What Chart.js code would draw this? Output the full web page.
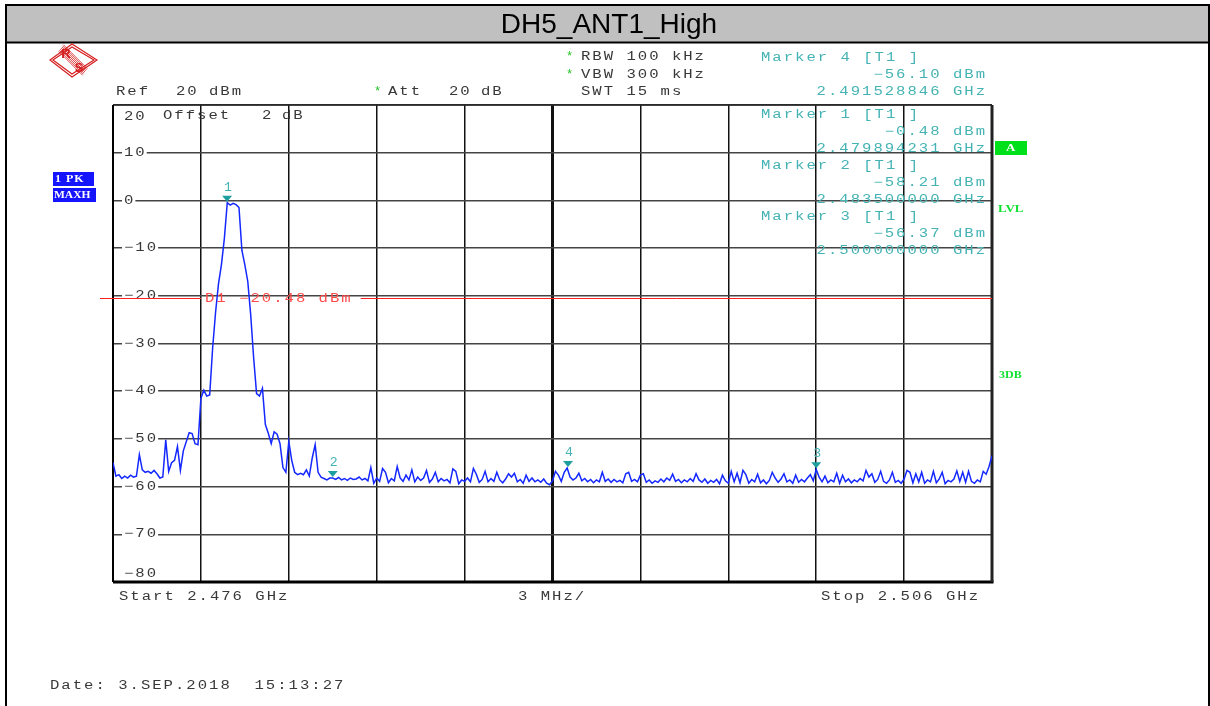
<!DOCTYPE html>
<html>
<head>
<meta charset="utf-8">
<script src="https://cdn.jsdelivr.net/npm/chart.js@4.4.1/dist/chart.umd.min.js"></script>
<style>
html, body { margin: 0; padding: 0; background: #fff; }
#wrap { width: 1210px; height: 706px; }
</style>
</head>
<body>
<div id="wrap"><canvas id="spec" width="1210" height="706"></canvas></div>
<script>
// --- Data: sweep 2.476 .. 2.506 GHz, one reading every 0.1 MHz ---
const START_GHZ = 2.476;
const STOP_GHZ = 2.506;
const STEP_GHZ = 0.0001;
const levels = [
  -55, -57.8, -57.5, -58.3, -57.8, -58.2, -57.6, -58, -57.8, -53.3,
  -56.5, -57, -56.8, -57.2, -56.6, -57.3, -58.2, -58, -50.2, -56.8,
  -55, -54.5, -51.6, -56.6, -52.5, -50.6, -48.7, -48.9, -51, -51.2,
  -41.5, -39.8, -41, -40.8, -31, -23.5, -17.5, -13.5, -8, -0.5,
  -1, -0.6, -0.9, -1.5, -10.5, -13.5, -17, -24, -33, -40.5,
  -41, -39.4, -47, -48.8, -51, -48.5, -49, -51, -56, -57,
  -50.5, -54.5, -57, -57.5, -57.2, -57.5, -56.5, -57.8, -54, -51.2,
  -57, -58, -58.3, -58.6, -58.2, -58.2, -58.5, -58.1, -58.6, -58.3,
  -58.7, -58.2, -58.5, -58.4, -58.0, -58.6, -58.3, -58.8, -56.0, -59.3,
  -58.2, -58.9, -56.2, -57.0, -59.2, -58.3, -58.8, -55.8, -58.2, -58.9,
  -57.6, -58.6, -56.5, -59.0, -58.0, -58.7, -58.2, -56.6, -59.1, -58.4,
  -57.0, -59.0, -58.3, -58.8, -58.5, -59.2, -56.3, -56.8, -59.4, -58.6,
  -58.9, -58.2, -59.0, -56.2, -57.4, -59.1, -58.5, -56.8, -59.0, -58.3,
  -58.9, -57.0, -58.6, -59.2, -58.4, -57.3, -58.0, -57.2, -59.0, -58.5,
  -59.3, -57.6, -58.9, -58.2, -59.0, -58.6, -59.1, -58.4, -59.3, -59.6,
  -58.8, -56.8, -57.6, -58.9, -57.0, -56.1, -58.0, -58.6, -58.2, -57.2,
  -58.8, -58.3, -59.0, -58.5, -59.2, -58.6, -59.0, -57.0, -58.9, -58.4,
  -59.1, -58.5, -59.0, -58.7, -59.2, -57.3, -57.0, -58.9, -58.5, -59.0,
  -57.6, -57.3, -59.1, -58.6, -59.3, -58.8, -59.1, -58.4, -59.0, -58.2,
  -58.7, -57.4, -58.9, -58.5, -59.2, -58.6, -59.0, -58.3, -58.9, -57.3,
  -58.6, -59.1, -58.4, -59.3, -58.7, -59.1, -58.5, -59.4, -57.6, -58.8,
  -59.3, -56.8, -59.0, -57.2, -59.2, -56.6, -57.5, -59.3, -58.5, -59.0,
  -57.4, -59.2, -58.6, -59.4, -58.7, -57.0, -58.2, -59.1, -58.4, -57.3,
  -59.0, -58.6, -59.3, -57.6, -59.1, -58.5, -59.0, -58.2, -57.5, -58.8,
  -56.4, -58.0, -59.0, -57.8, -59.2, -58.6, -59.0, -57.2, -59.3, -57.6,
  -59.0, -58.4, -59.2, -58.6, -59.0, -58.3, -58.8, -56.6, -58.0, -57.3,
  -59.1, -58.5, -56.8, -58.9, -59.3, -58.6, -57.0, -59.1, -58.7, -59.3,
  -58.4, -56.6, -57.0, -59.2, -57.3, -59.0, -57.0, -59.3, -58.6, -59.0,
  -56.8, -59.2, -58.4, -57.0, -59.4, -58.7, -59.0, -58.4, -56.7, -58.9,
  -57.0, -59.1, -56.8, -58.9, -59.3, -58.6, -59.0, -56.8, -57.4, -55.8,
  -53.5
];
const traceData = levels.map((v, i) => ({ x: START_GHZ + i * STEP_GHZ, y: v }));

// markers, in the order shown in the info block
const markerIds = [4, 1, 2, 3];
const markerFreq = [2.491528846, 2.479894231, 2.4835, 2.5];
const markerLevel = [-56.10, -0.48, -58.21, -56.37];

const displayLine = -20.48;
const xTicks = [2.476, 2.479, 2.482, 2.485, 2.488, 2.491, 2.494, 2.497, 2.500, 2.503, 2.506];
const yTicks = [20, 10, 0, -10, -20, -30, -40, -50, -60, -70, -80];

// --- Helpers ---
// the analyzer font is a wide, spaced monospace: stretch Liberation Mono sideways
const MONO = '12px "Liberation Mono", monospace';
const SX = 1.3;   // horizontal stretch
const SP = 2.0;   // gap between glyphs in screen px
const TEAL = '#45b3b3';
const GREY = '#383838';

function txt(ctx, s, x, y, color, font, spacing, sx) {
    sx = sx || SX;
    spacing = spacing === undefined ? SP : spacing;
    ctx.save();
    ctx.font = font || MONO;
    ctx.letterSpacing = (spacing / sx) + 'px';
    ctx.fillStyle = color;
    ctx.textAlign = 'left';
    ctx.textBaseline = 'middle';
    ctx.translate(x, y);
    ctx.scale(sx, 1);
    ctx.fillText(s, 0, 0);
    const w = ctx.measureText(s).width * sx;
    ctx.restore();
    return w;
}
function txtRight(ctx, s, right, y, color) {
    ctx.save();
    ctx.font = MONO;
    ctx.letterSpacing = (SP / SX) + 'px';
    const w = ctx.measureText(s).width * SX - SP;
    ctx.restore();
    txt(ctx, s, right - w, y, color);
}
const minus = v => String(v).replace('-', '\u2212');

// --- Page decorations (frame, title, header texts) ---
const framePlugin = {
    id: 'frame',
    beforeDraw(chart) {
        const ctx = chart.ctx;
        ctx.save();
        ctx.fillStyle = '#fff';
        ctx.fillRect(0, 0, 1210, 706);
        ctx.fillStyle = '#c0c0c0';
        ctx.fillRect(6, 5, 1204, 37);
        ctx.strokeStyle = '#000';
        ctx.lineWidth = 2;
        ctx.strokeRect(6, 5, 1203, 720);
        ctx.beginPath(); ctx.moveTo(6, 42.5); ctx.lineTo(1210, 42.5); ctx.stroke();
        ctx.fillStyle = '#000';
        ctx.font = '28px "Liberation Sans", Arial, sans-serif';
        ctx.textAlign = 'center';
        ctx.textBaseline = 'middle';
        ctx.fillText('DH5_ANT1_High', 609, 25);

        // R&S logo
        ctx.strokeStyle = '#d42020';
        ctx.lineWidth = 1.2;
        ctx.beginPath();
        ctx.moveTo(50, 60); ctx.lineTo(72, 44); ctx.lineTo(97, 60); ctx.lineTo(72, 77); ctx.closePath();
        ctx.stroke();
        ctx.beginPath();
        ctx.moveTo(53, 60); ctx.lineTo(72, 47); ctx.lineTo(94, 60); ctx.lineTo(72, 74); ctx.closePath();
        ctx.stroke();
        ctx.lineWidth = 0.8;
        for (let k = -3; k <= 3; k++) {
            ctx.beginPath();
            ctx.moveTo(61 + k * 0.8, 48 - k * 1.1);
            ctx.lineTo(85 + k * 0.8, 72 - k * 1.1);
            ctx.stroke();
        }
        ctx.fillStyle = '#d42020';
        ctx.font = 'bold 13px "Liberation Sans", sans-serif';
        ctx.fillText('R', 66, 54);
        ctx.fillText('S', 79, 68);
        ctx.restore();

        // setting lines
        txt(ctx, 'Ref', 116, 92, GREY);
        txt(ctx, '20', 176, 92, GREY);
        txt(ctx, 'dBm', 209, 92, GREY);
        txt(ctx, '*', 374, 92, '#20c020', undefined, 0, 1);
        txt(ctx, 'Att', 388, 92, GREY);
        txt(ctx, '20', 449, 92, GREY);
        txt(ctx, 'dB', 481, 92, GREY);
        txt(ctx, '*', 566, 57, '#20c020', undefined, 0, 1);
        txt(ctx, 'RBW 100 kHz', 581, 57, GREY);
        txt(ctx, '*', 566, 75, '#20c020', undefined, 0, 1);
        txt(ctx, 'VBW 300 kHz', 581, 75, GREY);
        txt(ctx, 'SWT 15 ms', 581, 92, GREY);

        // left trace boxes
        ctx.save();
        ctx.fillStyle = '#1414ff';
        ctx.fillRect(53, 172, 41, 14);
        ctx.fillRect(53, 188, 43, 14);
        ctx.fillStyle = '#00e01a';
        ctx.fillRect(995, 141, 32, 14);
        ctx.restore();
        const SERIF = 'bold 10px "Liberation Serif", serif';
        txt(ctx, '1 PK', 55, 179.5, '#fff', SERIF, 1, 1.2);
        txt(ctx, 'MAXH', 54, 195.5, '#fff', SERIF, 0, 1.15);
        txt(ctx, 'A', 1006, 148.5, '#fff', SERIF, 0, 1.3);
        txt(ctx, 'LVL', 998, 209.5, '#10e030', SERIF, 0, 1.3);
        txt(ctx, '3DB', 999, 375.5, '#10e030', SERIF, 0, 1.2);

        // bottom texts
        txt(ctx, 'Start 2.476 GHz', 119, 597, GREY);
        txt(ctx, '3 MHz/', 518, 597, GREY);
        txt(ctx, 'Stop 2.506 GHz', 821, 597, GREY);
        txt(ctx, 'Date: 3.SEP.2018  15:13:27', 50, 686, GREY);
    },
    beforeDatasetsDraw(chart) {
        const ctx = chart.ctx;
        const a = chart.chartArea;
        const ys = chart.scales.y;
        // plot border
        ctx.save();
        ctx.strokeStyle = '#222';
        ctx.lineWidth = 1.5;
        ctx.beginPath(); ctx.moveTo(a.left, a.top); ctx.lineTo(a.right, a.top); ctx.stroke();
        ctx.strokeStyle = '#000';
        ctx.lineWidth = 2;
        ctx.beginPath(); ctx.moveTo(a.left, a.top); ctx.lineTo(a.left, a.bottom); ctx.stroke();
        ctx.lineWidth = 3;
        ctx.beginPath(); ctx.moveTo(a.left, a.bottom); ctx.lineTo(a.right + 1.5, a.bottom); ctx.stroke();
        ctx.strokeStyle = '#222';
        ctx.beginPath(); ctx.moveTo(a.right, a.top); ctx.lineTo(a.right, a.bottom); ctx.stroke();
        ctx.restore();

        // y tick labels sitting on the grid lines
        yTicks.forEach(v => {
            const s = minus(v);
            if (v === yTicks[0]) { txt(ctx, s, 124, 117, GREY); return; }
            if (v === yTicks[yTicks.length - 1]) { txt(ctx, s, 124, 574, GREY); return; }
            const py = ys.getPixelForValue(v);
            ctx.save();
            ctx.font = MONO; ctx.letterSpacing = (SP / SX) + 'px';
            const w = ctx.measureText(s).width * SX;
            ctx.fillStyle = '#fff';
            ctx.fillRect(122, py - 3, w + 2, 6);
            ctx.restore();
            txt(ctx, s, 124, py, GREY);
        });
        txt(ctx, 'Offset', 163, 116, GREY);
        txt(ctx, '2', 262, 116, GREY);
        txt(ctx, 'dB', 282, 116, GREY);

        // marker info block
        markerIds.forEach((id, k) => {
            const y0 = k === 0 ? 58 : 115 + (k - 1) * 51;
            txt(ctx, 'Marker ' + id + ' [T1 ]', 761, y0, TEAL);
            txtRight(ctx, minus(markerLevel[k].toFixed(2)) + ' dBm', 985, y0 + 17, TEAL);
            txtRight(ctx, markerFreq[k].toFixed(9) + ' GHz', 985, y0 + 34, TEAL);
        });

        // display line D1
        const dy = Math.round(ys.getPixelForValue(displayLine)) + 0.5;
        const label = 'D1 ' + minus(displayLine.toFixed(2)) + ' dBm';
        const w = txt(ctx, label, 205, dy, '#ff4a4a');
        ctx.save();
        ctx.strokeStyle = '#ff2020';
        ctx.lineWidth = 1;
        ctx.beginPath();
        ctx.moveTo(100, dy); ctx.lineTo(201, dy);
        ctx.moveTo(205 + w + 8, dy); ctx.lineTo(a.right, dy);
        ctx.stroke();
        ctx.restore();
    },
    afterDatasetsDraw(chart) {
        const ctx = chart.ctx;
        const xs = chart.scales.x, ys = chart.scales.y;
        markerIds.forEach((id, k) => {
            const px = xs.getPixelForValue(markerFreq[k]);
            const py = ys.getPixelForValue(markerLevel[k]);
            ctx.save();
            ctx.fillStyle = '#1e9e9e';
            ctx.beginPath();
            ctx.moveTo(px - 5, py - 7); ctx.lineTo(px + 5, py - 7); ctx.lineTo(px, py - 1);
            ctx.closePath(); ctx.fill();
            ctx.restore();
            txt(ctx, String(id), px - 3, py - 15, TEAL, '12px "Liberation Mono", monospace', 0, 1.1);
        });
    }
};

const ctx = document.getElementById('spec').getContext('2d');
const specChart = new Chart(ctx, {
    type: 'line',
    data: {
        datasets: [{
            data: traceData,
            borderColor: '#1428ff',
            borderWidth: 1.5,
            pointRadius: 0,
            tension: 0,
            fill: false
        }]
    },
    options: {
        responsive: false,
        animation: false,
        devicePixelRatio: 1,
        parsing: false,
        layout: { padding: { left: 113, right: 218, top: 105, bottom: 124 } },
        scales: {
            x: {
                type: 'linear',
                min: START_GHZ, max: STOP_GHZ,
                afterBuildTicks: s => { s.ticks = xTicks.map(v => ({ value: v })); },
                ticks: { display: false },
                border: { display: false },
                grid: { color: '#111', lineWidth: c => (c.index === 5 ? 3 : 1.5), drawTicks: false }
            },
            y: {
                type: 'linear',
                min: -80, max: 20,
                afterBuildTicks: s => { s.ticks = yTicks.map(v => ({ value: v })); },
                ticks: { display: false },
                border: { display: false },
                grid: { color: '#444', lineWidth: 1.5, drawTicks: false }
            }
        },
        plugins: { legend: { display: false }, tooltip: { enabled: false } }
    },
    plugins: [framePlugin]
});
</script>
</body>
</html>
